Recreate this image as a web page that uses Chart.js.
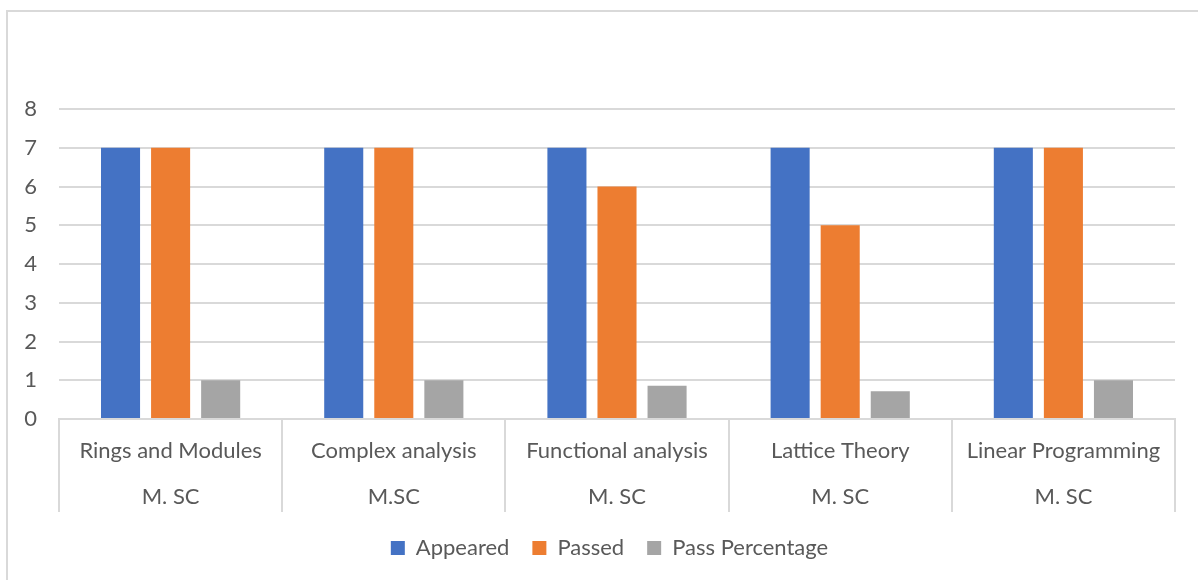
<!DOCTYPE html>
<html>
<head>
<meta charset="utf-8">
<script src="https://cdn.jsdelivr.net/npm/chart.js@4/dist/chart.umd.min.js"></script>
<style>
  html, body { margin: 0; padding: 0; background: #ffffff; }
  #wrap { position: relative; width: 1198px; height: 580px; }
  #frame { position: absolute; left: 6px; top: 10px; right: 0; bottom: 0; border-top: 2px solid #d9d9d9; border-left: 2px solid #d9d9d9; pointer-events: none; }
  canvas { display: block; }
</style>
</head>
<body>
<div id="wrap">
  <canvas id="c" width="1198" height="580"></canvas>
  <div id="frame"></div>
</div>
<script>
const subjects = ["Rings and Modules", "Complex analysis", "Functional analysis", "Lattice Theory", "Linear Programming"];
const programmes = ["M. SC", "M.SC", "M. SC", "M. SC", "M. SC"];
const appeared = [7, 7, 7, 7, 7];
const passed = [7, 7, 6, 5, 7];
const passPercentage = [1, 1, 0.857, 0.714, 1];
const yTicks = [0, 1, 2, 3, 4, 5, 6, 7, 8];

const FONT = "Lato, 'Open Sans', sans-serif";
const TEXT = "#595959";
const GRID = "#d9d9d9";

const labels = subjects.map((s, i) => [s, programmes[i]]);

const separators = {
  id: "separators",
  afterDraw(chart) {
    const x = chart.scales.x;
    const ctx = chart.ctx;
    ctx.save();
    ctx.strokeStyle = GRID;
    ctx.lineWidth = 2;
    const top = chart.chartArea.bottom;
    const bottom = top + 93;
    for (let i = 0; i <= subjects.length; i++) {
      const px = Math.round(x.getPixelForValue(i - 0.5));
      ctx.beginPath();
      ctx.moveTo(px, top);
      ctx.lineTo(px, bottom);
      ctx.stroke();
    }
    ctx.restore();
  }
};

const legendShift = {
  id: "legendShift",
  afterLayout(chart) {
    const lg = chart.legend;
    if (lg) { lg.left += 22; lg.right += 22; }
  }
};

new Chart(document.getElementById("c"), {
  type: "bar",
  data: {
    labels: labels,
    datasets: [
      { label: "Appeared", data: appeared, backgroundColor: "#4472c4" },
      { label: "Passed", data: passed, backgroundColor: "#ed7d31" },
      { label: "Pass Percentage", data: passPercentage, backgroundColor: "#a5a5a5" }
    ]
  },
  options: {
    responsive: false,
    animation: false,
    devicePixelRatio: 1,
    layout: { padding: { top: 109, right: 23, bottom: 11, left: 0 } },
    datasets: { bar: { categoryPercentage: 0.673, barPercentage: 0.78 } },
    scales: {
      x: {
        offset: true,
        grid: { display: false, drawOnChartArea: false, drawTicks: false },
        border: { display: true, color: GRID, width: 2 },
        ticks: {
          autoSkip: false, maxRotation: 0, minRotation: 0,
          color: TEXT, padding: 9,
          font: { family: FONT, size: 22, lineHeight: 46 / 22 }
        },
        afterFit(scale) { scale.height = 95; }
      },
      y: {
        min: 0, max: 8,
        afterBuildTicks(scale) { scale.ticks = yTicks.map(v => ({ value: v })); },
        grid: { color: GRID, lineWidth: 2, drawTicks: false },
        border: { display: false },
        ticks: {
          color: TEXT, padding: 22,
          font: { family: FONT, size: 22 }
        },
        afterFit(scale) { scale.width = 59; }
      }
    },
    plugins: {
      legend: {
        position: "bottom",
        labels: {
          boxWidth: 14, boxHeight: 14, padding: 23,
          color: TEXT,
          font: { family: FONT, size: 22 }
        }
      },
      tooltip: { enabled: false }
    }
  },
  plugins: [separators, legendShift]
});
</script>
</body>
</html>
